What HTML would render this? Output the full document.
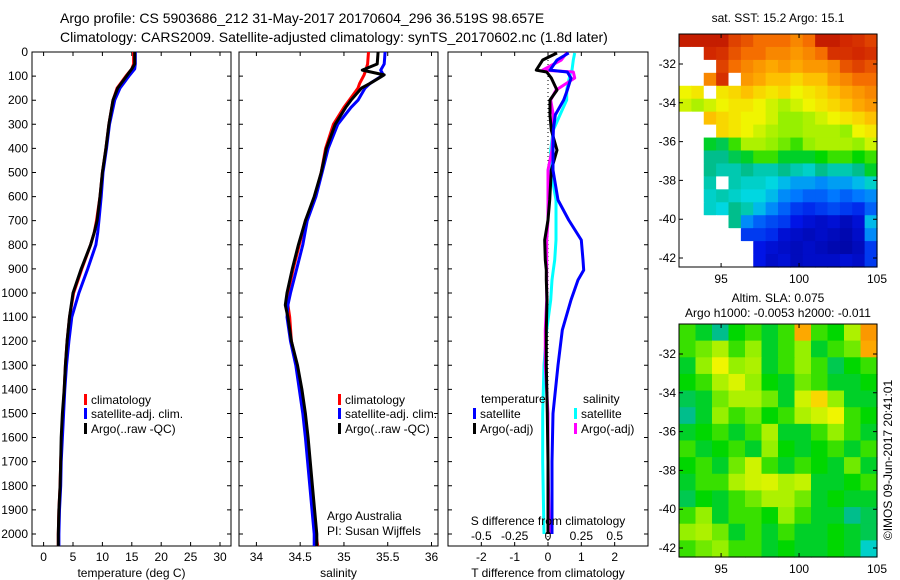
<!DOCTYPE html>
<html><head><meta charset="utf-8"><style>
body{margin:0;background:#fff}
svg{display:block;font-family:"Liberation Sans",sans-serif}
text{fill:#000}
</style></head><body>
<svg id="fig" width="900" height="580" viewBox="0 0 900 580">
<text x="60" y="23" font-size="14">Argo profile: CS 5903686_212 31-May-2017 20170604_296 36.519S 98.657E</text>
<text x="60" y="42" font-size="14">Climatology: CARS2009. Satellite-adjusted climatology: synTS_20170602.nc (1.8d later)</text>
<text x="778" y="22" font-size="12" text-anchor="middle">sat. SST: 15.2 Argo: 15.1</text>
<text x="778" y="302" font-size="12" text-anchor="middle">Altim. SLA: 0.075</text>
<text x="778" y="317" font-size="12" text-anchor="middle">Argo h1000: -0.0053 h2000: -0.011</text>
<text transform="translate(892,460) rotate(-90)" font-size="12" text-anchor="middle">©IMOS 09-Jun-2017 20:41:01</text>
<g id="plots"></g>
</svg>
<script>
// ---- profile data ----
const depthT = [0,50,70,100,150,200,300,400,500,600,700,750,800,900,1000,1100,1200,1300,1400,1500,1600,1700,1800,1900,2000,2050];
const tempClim = [15.3,15.3,15.0,14.0,12.5,11.8,11.1,10.6,10.0,9.6,9.0,8.6,8.0,6.5,5.1,4.4,4.0,3.7,3.5,3.3,3.1,2.9,2.8,2.6,2.5,2.5];
const tempSat = [15.6,15.6,15.5,14.5,13.0,12.1,11.2,10.7,10.1,9.8,9.4,9.2,8.9,7.5,6.0,4.8,4.3,3.9,3.6,3.4,3.2,3.0,2.9,2.7,2.6,2.6];
const tempArgo = [15.5,15.5,15.0,14.1,12.6,11.8,11.1,10.6,10.0,9.6,9.1,8.6,8.0,6.4,5.0,4.4,4.0,3.7,3.5,3.2,3.0,2.9,2.8,2.6,2.5,2.5];
const depthS = [0,50,75,95,130,150,200,230,300,400,500,600,700,800,900,1000,1050,1100,1200,1300,1400,1500,1600,1800,2000,2050];
const salClim = [35.28,35.27,35.25,35.23,35.18,35.16,35.06,35.0,34.88,34.79,34.74,34.67,34.56,34.49,34.42,34.36,34.36,34.38,34.40,34.46,34.50,34.54,34.57,34.62,34.68,34.70];
const salArgo = [35.39,35.38,35.21,35.46,35.3,35.2,35.08,35.02,34.9,34.8,34.74,34.66,34.56,34.48,34.41,34.35,34.33,34.36,34.4,34.47,34.52,34.56,34.59,34.64,34.69,34.69];
const salSat = [35.47,35.46,35.42,35.45,35.3,35.24,35.16,35.08,34.93,34.82,34.75,34.68,34.58,34.53,34.46,34.39,34.36,34.35,34.39,34.45,34.49,34.53,34.56,34.61,34.66,34.66];
const depthD = [4,33,75,83,108,158,199,261,324,407,490,614,697,780,863,905,946,1029,1154,1300,1500,1700,2000];
const tDiffSat = [0.62,0.27,0.06,0.58,0.69,0.58,0.47,0.22,0.16,0.15,0.15,0.3,0.62,1.0,1.05,1.07,0.9,0.69,0.43,0.3,0.15,0.12,0.12];
const tDiffArgo = [0.27,-0.16,-0.35,-0.04,0.1,0.27,0.06,0.06,0.1,0.27,0.1,0.05,0.0,-0.1,-0.08,-0.05,-0.05,-0.03,-0.05,-0.05,-0.02,0.0,0.0];
const sDiffArgo = [0.14,0.1,-0.04,0.19,0.2,0.06,0.02,0.04,0.04,0.03,0.0,0.0,0.0,-0.01,-0.01,-0.01,-0.01,-0.01,-0.02,-0.02,0.0,0.0,0.01];
const sDiffSat = [0.2,0.19,0.18,0.17,0.16,0.14,0.14,0.09,0.04,0.02,0.02,0.06,0.06,0.06,0.05,0.04,0.03,0.02,-0.01,-0.03,-0.04,-0.04,-0.03];
const depthTicks = [0,100,200,300,400,500,600,700,800,900,1000,1100,1200,1300,1400,1500,1600,1700,1800,1900,2000];
const tempTicks = [0,5,10,15,20,25,30];
const salTicks = [34,34.5,35,35.5,36];
const salTickLabels = ["34","34.5","35","35.5","36"];
const tdTicks = [-2,-1,0,1,2];
const sdTicks = [-0.5,-0.25,0,0.25,0.5];
const sdTickLabels = ["-0.5","-0.25","0","0.25","0.5"];
const lonTicks = [95,100,105];
const latTicks = [-32,-34,-36,-38,-40,-42];
// SST map (colour index 0..1, -1 = land)
const sstGrid = [
[0.95,0.95,0.95,0.95,0.9,0.88,0.85,0.85,0.85,0.82,0.85,0.95,0.95,0.93,0.92,0.9],
[-1,-1,0.93,0.92,0.88,0.85,0.85,0.82,0.82,0.8,0.82,0.85,0.92,0.92,0.93,0.92],
[-1,-1,-1,0.9,0.85,0.82,0.8,0.78,0.8,0.78,0.8,0.8,0.82,0.88,0.9,0.88],
[-1,-1,0.82,0.92,-1,0.8,0.78,0.75,0.75,0.72,0.75,0.75,0.8,0.82,0.85,0.85],
[0.68,0.7,-1,0.7,0.72,0.75,0.72,0.7,0.72,0.68,0.7,0.72,0.75,0.78,0.8,0.82],
[0.65,0.62,0.65,0.68,0.7,0.7,0.68,0.65,0.62,0.65,0.68,0.7,0.72,0.75,0.78,0.8],
[-1,-1,0.75,0.72,0.7,0.68,0.68,0.65,0.6,0.6,0.62,0.65,0.68,0.7,0.72,0.75],
[-1,-1,-1,0.72,0.7,0.68,0.65,0.62,0.6,0.6,0.62,0.62,0.62,0.6,0.68,0.7],
[-1,-1,0.5,0.48,0.55,0.62,0.62,0.6,0.58,0.55,0.6,0.62,0.62,0.62,0.6,0.65],
[-1,-1,0.45,0.45,0.48,0.5,0.55,0.55,0.5,0.5,0.5,0.52,0.55,0.55,0.52,0.55],
[-1,-1,0.45,0.42,0.42,0.45,0.42,0.42,0.45,0.42,0.4,0.45,0.42,0.42,0.45,0.5],
[-1,-1,0.42,-1,0.42,0.4,0.4,0.38,0.35,0.32,0.32,0.3,0.32,0.32,0.35,0.4],
[-1,-1,0.4,0.42,0.4,0.38,0.38,0.35,0.3,0.28,0.25,0.25,0.28,0.25,0.28,0.3],
[-1,-1,0.4,0.38,0.45,0.42,0.35,0.3,0.25,0.2,0.18,0.2,0.22,0.2,0.18,0.25],
[-1,-1,-1,-1,0.45,0.3,0.25,0.22,0.2,0.15,0.12,0.1,0.12,0.08,0.12,0.35],
[-1,-1,-1,-1,-1,0.2,0.2,0.18,0.12,0.1,0.08,0.1,0.08,0.06,0.1,0.3],
[-1,-1,-1,-1,-1,-1,0.15,0.12,0.1,0.08,0.1,0.08,0.06,0.05,0.08,0.2],
[-1,-1,-1,-1,-1,-1,0.15,0.1,0.12,0.08,0.1,0.1,0.1,0.12,0.1,0.2]];
const slaGrid = [
[0.55,0.5,0.45,0.52,0.55,0.5,0.55,0.78,0.55,0.52,0.62,0.8],
[0.55,0.58,0.62,0.55,0.6,0.5,0.55,0.6,0.5,0.55,0.58,0.78],
[0.5,0.6,0.68,0.6,0.62,0.5,0.55,0.6,0.55,0.48,0.52,0.55],
[0.52,0.55,0.62,0.66,0.6,0.52,0.5,0.58,0.55,0.5,0.5,0.52],
[0.48,0.5,0.58,0.62,0.62,0.58,0.5,0.65,0.72,0.6,0.5,0.5],
[0.45,0.5,0.6,0.55,0.58,0.52,0.55,0.62,0.65,0.68,0.55,0.52],
[0.5,0.52,0.55,0.5,0.55,0.62,0.5,0.5,0.55,0.6,0.55,0.5],
[0.55,0.5,0.52,0.55,0.5,0.6,0.52,0.5,0.52,0.55,0.5,0.55],
[0.52,0.55,0.5,0.58,0.65,0.55,0.5,0.55,0.52,0.5,0.58,0.5],
[0.5,0.55,0.55,0.62,0.65,0.66,0.62,0.64,0.5,0.5,0.52,0.55],
[0.48,0.52,0.5,0.55,0.58,0.62,0.62,0.58,0.5,0.52,0.5,0.5],
[0.55,0.6,0.5,0.55,0.55,0.52,0.6,0.55,0.5,0.5,0.45,0.48],
[0.6,0.62,0.58,0.5,0.55,0.5,0.55,0.5,0.5,0.52,0.5,0.48],
[0.55,0.58,0.6,0.55,0.55,0.5,0.52,0.5,0.5,0.52,0.5,0.4]];

const NS='http://www.w3.org/2000/svg';
const root=document.getElementById('plots');
function mk(tag,attrs,parent){const e=document.createElementNS(NS,tag);for(const k in attrs)e.setAttribute(k,attrs[k]);(parent||root).appendChild(e);return e;}
function lin(d0,d1,r0,r1){return v=>r0+(v-d0)*(r1-r0)/(d1-d0);}
const TOP=52,BOT=546;
const yD=lin(0,2050,TOP,BOT);
const cmapStops=[[0,[0,0,140]],[0.15,[0,20,230]],[0.28,[0,120,255]],[0.38,[0,215,225]],[0.45,[0,190,140]],[0.52,[0,215,0]],[0.6,[150,240,0]],[0.68,[240,245,0]],[0.76,[255,185,0]],[0.85,[245,110,0]],[0.93,[210,40,0]],[1,[165,0,0]]];
function jet(v){
  for(let i=1;i<cmapStops.length;i++){
    if(v<=cmapStops[i][0]){const a=cmapStops[i-1],b=cmapStops[i],f=(v-a[0])/(b[0]-a[0]);
      const c=a[1].map((x,k)=>Math.round(x+(b[1][k]-x)*f));return `rgb(${c[0]},${c[1]},${c[2]})`;}
  }
  return 'rgb(165,0,0)';
}

function panel(name,x0,x1,xs,ticks,labels,title,showY){
  const g=mk('g',{});
  
  
  const box=mk('rect',{x:x0,y:TOP,width:x1-x0,height:BOT-TOP,fill:'none',stroke:'#000','stroke-width':1},g);
  
  
  depthTicks.forEach(d=>{
    const t=mk('path',{d:`M${x0},${yD(d)}h4M${x1},${yD(d)}h-4`,stroke:'#000'},g);
    
    
    if(showY){const l=mk('text',{x:x0-4,y:yD(d)+4,'font-size':12,'text-anchor':'end'},g);l.textContent=d;
      
      }
  });
  ticks.forEach((v,i)=>{
    const t=mk('path',{d:`M${xs(v)},${TOP}v4M${xs(v)},${BOT}v-4`,stroke:'#000'},g);
    
    
    const l=mk('text',{x:xs(v),y:BOT+15,'font-size':12,'text-anchor':'middle'},g);l.textContent=labels[i];
    
    
  });
  const tt=mk('text',{x:(x0+x1)/2,y:BOT+31,'font-size':12,'text-anchor':'middle'},g);tt.textContent=title;
  
  
  return g;
}
function series(g,name,depths,vals,xs,color,x0,x1){
  const pts=vals.map((v,i)=>`${Math.max(x0,Math.min(x1,xs(v))).toFixed(1)},${yD(depths[i]).toFixed(1)}`).join(' ');
  const p=mk('polyline',{points:pts,fill:'none',stroke:color,'stroke-width':3,'stroke-linejoin':'round'},g);
  
  
}
function legend(g,x,y,color,label,name){
  const r=mk('rect',{x:x,y:y-9,width:3,height:11,fill:color},g);
  
  
  const t=mk('text',{x:x+7,y:y+1,'font-size':12},g);t.textContent=label;
  
  
}

// Panel 1: temperature
const xT=lin(0,30,43.6,220);
const g1=panel('temperature-panel',32,231,xT,tempTicks,tempTicks.map(String),'temperature (deg C)',true);
series(g1,'temp-climatology-line',depthT,tempClim,xT,'#f00',32,231);
series(g1,'temp-satellite-line',depthT,tempSat,xT,'#00f',32,231);
series(g1,'temp-argo-line',depthT,tempArgo,xT,'#000',32,231);
legend(g1,84,403,'#f00','climatology','legend-climatology');
legend(g1,84,417,'#00f','satellite-adj. clim.','legend-satellite');
legend(g1,84,432,'#000','Argo(..raw -QC)','legend-argo');

// Panel 2: salinity
const xS=lin(34,36,256.4,431.5);
const g2=panel('salinity-panel',239,438,xS,salTicks,salTickLabels,'salinity',false);
series(g2,'sal-climatology-line',depthS,salClim,xS,'#f00',239,438);
series(g2,'sal-satellite-line',depthS,salSat,xS,'#00f',239,438);
series(g2,'sal-argo-line',depthS,salArgo,xS,'#000',239,438);
legend(g2,338,403,'#f00','climatology','legend-climatology');
legend(g2,338,417,'#00f','satellite-adj. clim.','legend-satellite');
legend(g2,338,432,'#000','Argo(..raw -QC)','legend-argo');
[['Argo Australia',520],['PI: Susan Wijffels',535]].forEach(a=>{const t=mk('text',{x:327,y:a[1],'font-size':12},g2);t.textContent=a[0];
  
  });

// Panel 3: differences
const xTD=lin(-3,3,448,648);
const xSD=lin(-0.75,0.75,448,648);
const g3=panel('difference-panel',448,648,xTD,tdTicks,tdTicks.map(String),'T difference from climatology',false);
const zl=mk('line',{x1:xTD(0),x2:xTD(0),y1:TOP,y2:BOT,stroke:'#000','stroke-dasharray':'1,3'},g3);


series(g3,'sdiff-satellite-line',depthD,sDiffSat,xSD,'#0ff',448,648);
series(g3,'sdiff-argo-line',depthD,sDiffArgo,xSD,'#f0f',448,648);
series(g3,'tdiff-argo-line',depthD,tDiffArgo,xTD,'#000',448,648);
series(g3,'tdiff-satellite-line',depthD,tDiffSat,xTD,'#00f',448,648);
sdTicks.forEach((v,i)=>{const t=mk('text',{x:xSD(v),y:540,'font-size':12,'text-anchor':'middle'},g3);t.textContent=sdTickLabels[i];
  
  });
const sdt=mk('text',{x:548,y:525,'font-size':12,'text-anchor':'middle'},g3);sdt.textContent='S difference from climatology';


const lt1=mk('text',{x:481,y:403,'font-size':12},g3);lt1.textContent='temperature';


const lt2=mk('text',{x:583,y:403,'font-size':12},g3);lt2.textContent='salinity';


legend(g3,473,417,'#00f','satellite','legend-t-satellite');
legend(g3,473,432,'#000','Argo(-adj)','legend-t-argo');
legend(g3,574,417,'#0ff','satellite','legend-s-satellite');
legend(g3,574,432,'#f0f','Argo(-adj)','legend-s-argo');

// Maps
function map(name,grid,y0,y1,latTop){
  const x0=679,x1=877;
  const g=mk('g',{});
  
  
  const rows=grid.length,cols=grid[0].length,cw=(x1-x0)/cols,ch=(y1-y0)/rows;
  grid.forEach((row,r)=>row.forEach((v,c)=>{
    const cell=mk('rect',{x:(x0+c*cw).toFixed(2),y:(y0+r*ch).toFixed(2),width:(cw+0.6).toFixed(2),height:(ch+0.6).toFixed(2),fill:v<0?'#fff':jet(v)},g);
    
    
  }));
  const fr=mk('rect',{x:x0,y:y0,width:x1-x0,height:y1-y0,fill:'none',stroke:'#000'},g);
  
  
  const xl=lin(92.3,105,x0,x1);
  lonTicks.forEach(v=>{
    const t=mk('path',{d:`M${xl(v)},${y1}v-4M${xl(v)},${y0}v4`,stroke:'#000'},g);
    
    
    const l=mk('text',{x:xl(v),y:y1+16,'font-size':12,'text-anchor':'middle'},g);l.textContent=v;
    
    
  });
  const yl=lin(-32,-42,latTop,latTop+194);
  latTicks.forEach(v=>{
    const t=mk('path',{d:`M${x0},${yl(v)}h4M${x1},${yl(v)}h-4`,stroke:'#000'},g);
    
    
    const l=mk('text',{x:676,y:yl(v)+4,'font-size':12,'text-anchor':'end'},g);l.textContent=v;
    
    
  });
}
map('sst-map',sstGrid,34,267,64);
map('sla-map',slaGrid,324,557,354);
</script>
</body></html>
